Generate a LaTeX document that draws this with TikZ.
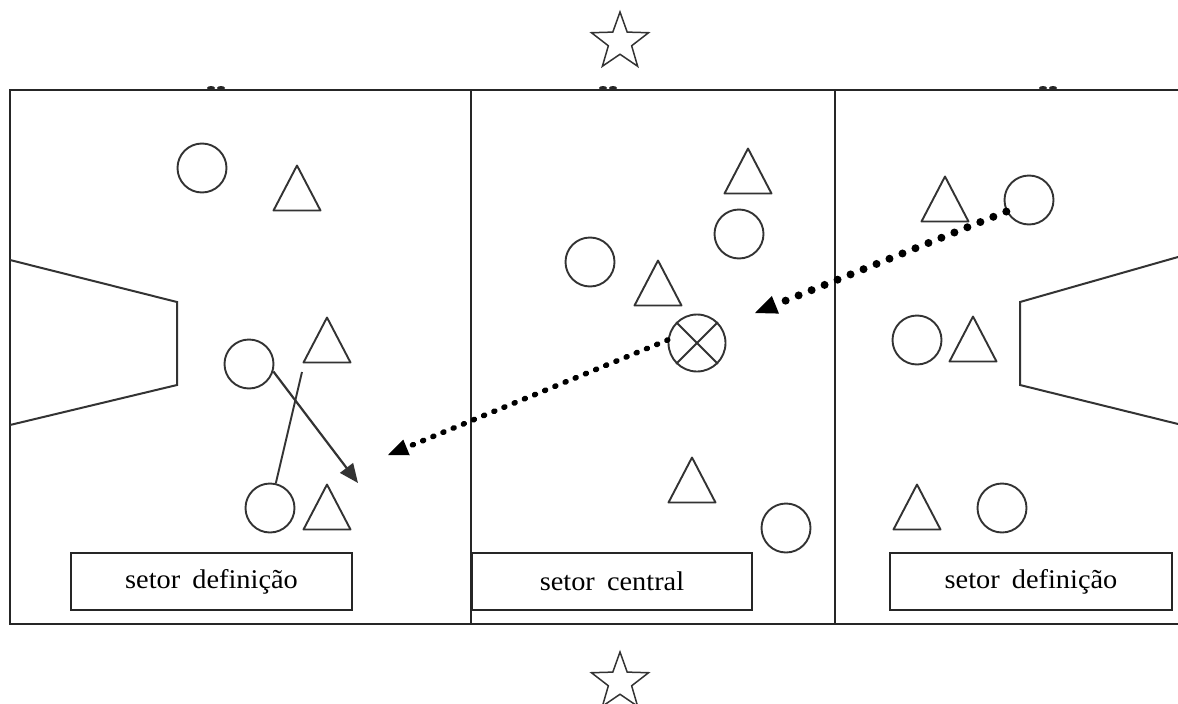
\documentclass[tikz,border=0pt]{standalone}
\usepackage{fontspec}
\setmainfont[FakeStretch=1.05]{Liberation Serif}
\usetikzlibrary{arrows.meta,shapes.geometric}
\begin{document}
\begin{tikzpicture}[x=1pt,y=-1pt,
  frame/.style={line width=2.2pt, draw=black!85},
  shp/.style={line width=1.9pt, draw=black!80},
  player/.style={circle, shp, minimum size=49pt, inner sep=0pt},
  ballnode/.style={circle, shp, minimum size=57pt, inner sep=0pt},
  starnode/.style={star, star points=5, star point ratio=2.45, shp, line width=1.5pt, minimum size=60pt, inner sep=0pt},
  lbl/.style={rectangle, line width=2.2pt, draw=black!85, minimum width=281pt, minimum height=57pt, inner sep=0pt, font=\fontsize{27}{30}\selectfont},
  tri/.pic={\draw[shp, line join=round] (0,-22.5) -- (23.5,22.5) -- (-23.5,22.5) -- cycle;},
  dotsmall/.style={line width=5.5pt, draw=black, dash pattern=on 1pt off 10pt, line cap=round},
  dotbig/.style={line width=8pt, draw=black, dash pattern=on 0pt off 14pt, line cap=round}
]
\fill[white] (0,0) rectangle (1178,704);
\useasboundingbox (0,0) rectangle (1178,704);

% field frame
\coordinate (ftr) at (1178,90);
\coordinate (ftl) at (10,90);
\coordinate (fbl) at (10,624);
\coordinate (fbr) at (1178,624);
\draw[frame] (ftr) -- (ftl) -- (fbl) -- (fbr);
\coordinate (d1t) at (471,90); \coordinate (d1b) at (471,624);
\coordinate (d2t) at (835,90); \coordinate (d2b) at (835,624);
\draw[frame] (d1t) -- (d1b);
\draw[frame] (d2t) -- (d2b);

% small marks on top line
\foreach \mx in {211,221,603,613,1043,1053}
  \fill[black!85] (\mx,88) ellipse [x radius=4pt, y radius=2pt];

% goals
\draw[shp, line width=2pt] (10,260) -- (177,302) -- (177,385) -- (10,425);
\draw[shp, line width=2pt] (1178,257) -- (1020,302) -- (1020,385) -- (1178,424);

% stars
\node[starnode] (s1) at (620,42) {};
\node[starnode] (s2) at (620,682) {};

% left sector
\node[player] (c1) at (202,168) {};
\node[player] (c2) at (249,364) {};
\node[player] (c3) at (270,508) {};
\pic (t1) at (297,188) {tri};
\pic (t2) at (327,340) {tri};
\pic (t3) at (327,507) {tri};

% central sector
\node[player] (c4) at (739,234) {};
\node[player] (c5) at (590,262) {};
\node[player] (c6) at (786,528) {};
\node[ballnode] (ball) at (697,343) {};
\draw[shp] (ball.45) -- (ball.225);
\draw[shp] (ball.135) -- (ball.-45);
\pic (t4) at (748,171) {tri};
\pic (t5) at (658,283) {tri};
\pic (t6) at (692,480) {tri};

% right sector
\node[player] (c7) at (1029,200) {};
\node[player] (c8) at (917,340) {};
\node[player] (c9) at (1002,508) {};
\pic (t7) at (945,199) {tri};
\pic (t8) at (973,339) {tri};
\pic (t9) at (917,507) {tri};

% labels
\node[lbl] (b1) at (211.5,581.5) {setor\hspace{0.45em}definição};
\node[lbl, minimum width=280pt] (b2) at (612,581.5) {setor\hspace{0.45em}central};
\node[lbl, minimum width=282pt] (b3) at (1031,581.5) {setor\hspace{0.45em}definição};

% connectors
\coordinate (l1) at (302,372);
\draw[shp] (c3) -- (l1);
\coordinate (a1) at (358,483);
\draw[shp, line width=2.2pt, -{Triangle[length=19pt,width=16pt]}] (c2.-17) -- (a1);
\coordinate (a2) at (388,455);
\draw[dotsmall, -{Triangle[length=20pt,width=17pt,line width=0pt]}] (ball.174) -- (a2);
\coordinate (a3) at (755,313);
\draw[dotbig, -{Triangle[length=22pt,width=19pt,line width=0pt]}] (c7.207) -- (a3);
\end{tikzpicture}
\end{document}
